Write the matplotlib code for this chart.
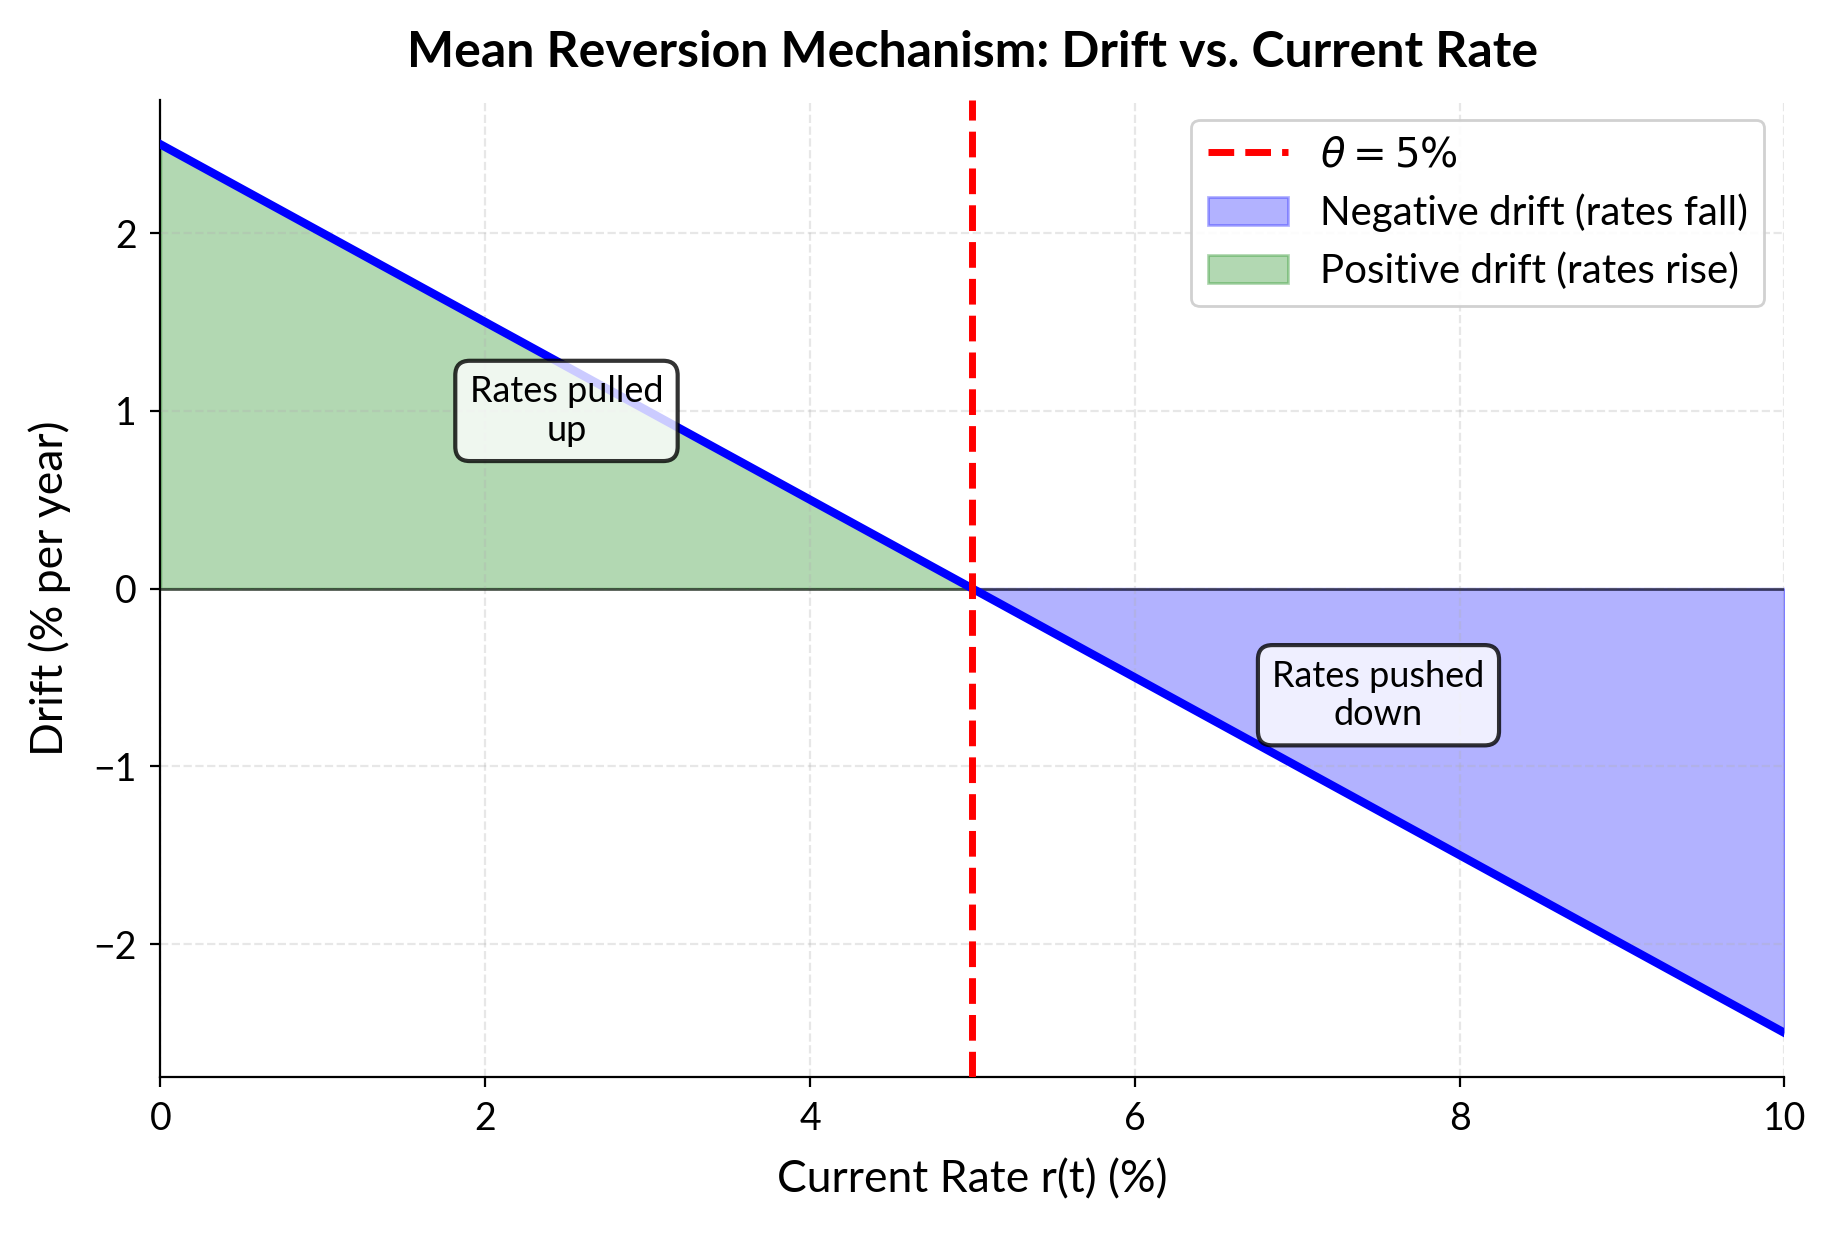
import numpy as np
import matplotlib
matplotlib.use('Agg')
from matplotlib import pyplot as plt

# Data
rate = np.array([0.0, 5.0, 10.0])        # current rate r(t) in %
drift = np.array([2.5, 0.0, -2.5])       # drift in % per year
theta = 5.0                              # long-run mean
note_up = (2.5, 1.0, 'Rates pulled\nup')
note_down = (7.5, -0.6, 'Rates pushed\ndown')

plt.rcParams['font.family'] = ['Lato', 'DejaVu Sans']

fig, ax = plt.subplots(figsize=(9.17, 6.17), dpi=200)
fig.subplots_adjust(left=0.0875, right=0.973, top=0.919, bottom=0.127)

# Drift line and zero reference
ax.plot(rate, drift, color='blue', linewidth=3, zorder=3)
ax.axhline(0, color='black', linewidth=1, alpha=0.6, zorder=2)

# Long-run mean
vline = ax.axvline(theta, color='red', linestyle='--', linewidth=2.5,
                   label=r'$\theta = 5\%$', zorder=4)

# Shaded regions
neg = ax.fill_between(rate, drift, 0, where=drift <= 0, color='blue', alpha=0.3,
                      interpolate=True, label='Negative drift (rates fall)')
pos = ax.fill_between(rate, drift, 0, where=drift >= 0, color='green', alpha=0.3,
                      interpolate=True, label='Positive drift (rates rise)')

# Text boxes
box = dict(boxstyle='round,pad=0.4', facecolor='white', alpha=0.8,
           edgecolor='black', linewidth=1.5)
for x, y, txt in [note_up, note_down]:
    ax.text(x, y, txt, ha='center', va='center', fontsize=13, bbox=box, zorder=5)

ax.set_xlim(0, 10)
ax.set_xlabel('Current Rate r(t) (%)', fontsize=16, labelpad=8)
ax.set_ylabel('Drift (% per year)', fontsize=16, labelpad=8)
ax.set_title('Mean Reversion Mechanism: Drift vs. Current Rate',
             fontsize=18, fontweight='bold', pad=12)
ax.tick_params(labelsize=13.5, pad=5)
ax.grid(True, linestyle='--', alpha=0.3)
ax.spines['top'].set_visible(False)
ax.spines['right'].set_visible(False)

ax.legend(handles=[vline, neg, pos], loc='upper right', fontsize=14.5,
          framealpha=0.9)

plt.savefig('out.png', dpi=200)
